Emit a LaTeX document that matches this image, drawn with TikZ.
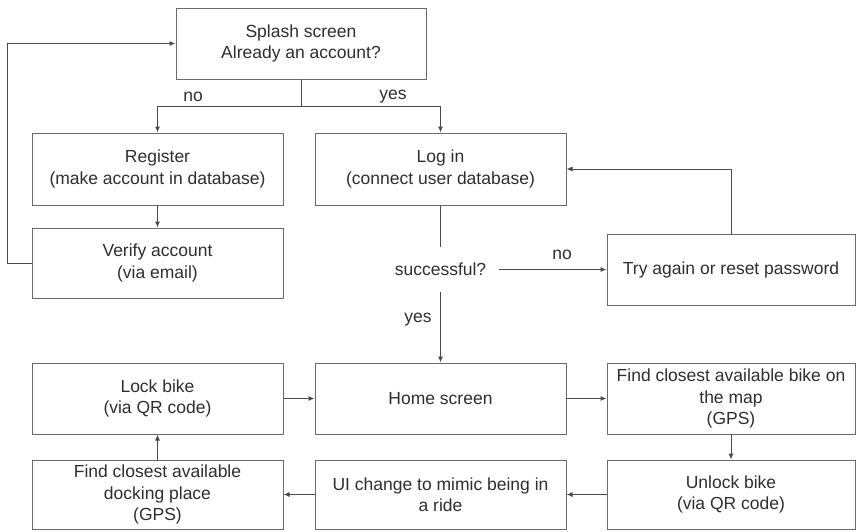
\documentclass[tikz,border=0pt]{standalone}
\usepackage{fontspec}
\setmainfont{Liberation Sans}
\usetikzlibrary{arrows.meta}
\definecolor{txt}{HTML}{2E2E2E}
\definecolor{edge}{HTML}{4A4A4A}
\definecolor{frame}{HTML}{6A6A6A}
\begin{document}
\begin{tikzpicture}[x=1pt,y=-1pt,
  box/.style={draw=frame, line width=1pt, rectangle, inner sep=0pt,
    minimum width=251pt, minimum height=71pt, align=center, text=txt,
    font=\fontsize{17.5}{21.5}\selectfont},
  lbl/.style={inner sep=0pt, text=txt, font=\fontsize{17.5}{21.5}\selectfont},
  link/.style={draw=edge, line width=1pt},
  arr/.style={link, -{Latex[length=6pt,width=5pt]}}]
\useasboundingbox (0,0) rectangle (856,531);

% boxes
\node[box, minimum width=250pt] (splash) at (301,43.5) {Splash screen\\Already an account?};
\node[box, minimum height=72pt] (reg) at (157.5,169) {Register\\(make account in database)};
\node[box, minimum height=72pt] (login) at (440.5,169) {Log in\\(connect user database)};
\node[box, minimum height=70pt] (verify) at (157.5,263) {Verify account\\(via email)};
\node[box, minimum width=248pt] (try) at (731,269.5) {Try again or reset password};
\node[box] (lock) at (157.5,398.5) {Lock bike\\(via QR code)};
\node[box] (home) at (440.5,398.5) {Home screen};
\node[box, minimum width=248pt] (bike) at (731,398.5) {Find closest available bike on\\the map\\(GPS)};
\node[box, minimum height=69pt] (dock) at (157.5,494.5) {Find closest available\\docking place\\(GPS)};
\node[box, minimum height=69pt] (ui) at (440.5,494.5) {UI change to mimic being in\\a ride};
\node[box, minimum width=248pt, minimum height=69pt] (unlock) at (731,494.5) {Unlock bike\\(via QR code)};

% decision text
\node[lbl, minimum width=117pt, minimum height=45pt] (succ) at (440.5,269.5) {successful?};

% branch labels
\node[lbl] (lno1) at (193,97) {no};
\node[lbl] (lyes1) at (393,97) {yes};
\node[lbl] (lno2) at (562,255) {no};
\node[lbl] (lyes2) at (418,320) {yes};

% connectors
\coordinate (split) at (301,106);
\draw[link] (splash.south) -- (split);
\draw[arr] (split) -| (reg.north);
\draw[arr] (split) -| (login.north);
\draw[arr] (reg.south) -- (verify.north);
\draw[arr] (verify.west) -- ++(-24,0) |- (splash.west);
\draw[link] (login.south) -- (login.south |- succ.north);
\draw[arr] (succ.east) -- (succ.east -| try.west);
\draw[arr] (try.north) |- (login.east);
\draw[arr] (succ.south -| home.north) -- (home.north);
\draw[arr] (lock.east) -- (home.west);
\draw[arr] (home.east) -- (bike.west);
\draw[arr] (bike.south) -- (unlock.north);
\draw[arr] (unlock.west) -- (ui.east);
\draw[arr] (ui.west) -- (dock.east);
\draw[arr] (dock.north) -- (lock.south);
\end{tikzpicture}
\end{document}
